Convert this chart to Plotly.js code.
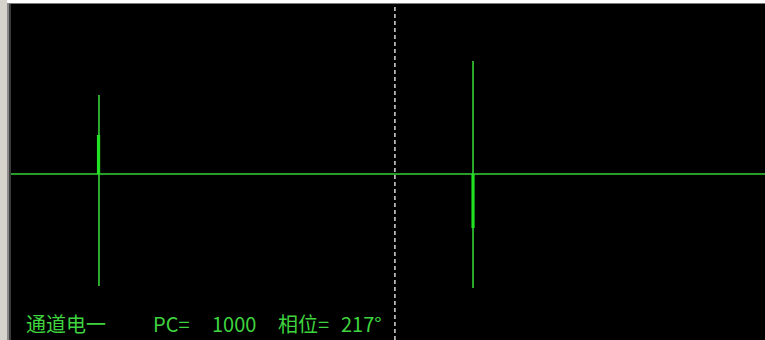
<!DOCTYPE html>
<html>
<head>
<meta charset="utf-8">
<script src="https://cdn.plot.ly/plotly-3.0.1.min.js"></script>
<style>
  html, body { margin: 0; padding: 0; background: #ffffff; }
  #scope { width: 765px; height: 340px; }
</style>
</head>
<body>
<div id="scope"></div>
<script>
// Partial-discharge scope trace over one power cycle (phase in degrees)
const phaseDeg   = [0, 42.0, 42.0, 42.0, 42.0, 220.6, 220.6, 220.6, 220.6, 360];
const amplitude  = [0, 0, 0.79, -1.12, 0, 0, 1.13, -1.14, 0, 0];

// Dense (bright) part of each pulse
const burstPhase = [41.8, 41.8, null, 220.6, 220.6];
const burstAmp   = [0, 0.39, null, 0, -0.54];

// Cursor position and status line
const cursorPhase  = 183.3;
const channelName  = '通道电一';
const pcLabel      = 'PC=';
const pcValue      = '1000';
const phaseLabel   = '相位=';
const phaseValue   = '217°';

const W = 765, H = 340, L = 11, T = 4;
const pw = W - L, ph = H - T;
const px = p => (p - L) / pw;          // page x pixel -> paper x
const py = q => 1 - (q - T) / ph;      // page y pixel -> paper y

const green = '#36d236';
const txtFont = { family: '"Noto Sans CJK SC", "Liberation Sans", sans-serif', size: 20, color: '#3fd43f' };

const traces = [
  { x: phaseDeg, y: amplitude, mode: 'lines', line: { color: green, width: 1.6 },
    hoverinfo: 'skip', showlegend: false },
  { x: burstPhase, y: burstAmp, mode: 'lines', line: { color: '#22e022', width: 3.2 },
    hoverinfo: 'skip', showlegend: false, connectgaps: false }
];

function label(text, left) {
  return { text: text, xref: 'paper', yref: 'paper', x: px(left), y: py(340),
           xanchor: 'left', yanchor: 'bottom', showarrow: false, font: txtFont };
}

const layout = {
  width: W, height: H,
  margin: { l: L, r: 0, t: T, b: 0, pad: 0 },
  paper_bgcolor: '#ffffff',
  plot_bgcolor: '#000000',
  xaxis: { range: [0, 360], visible: false, fixedrange: true },
  yaxis: { range: [-1.66, 1.70], visible: false, fixedrange: true },
  showlegend: false,
  shapes: [
    // window frame
    { type: 'rect', xref: 'paper', yref: 'paper', x0: px(0), x1: px(7), y0: py(340), y1: py(0),
      fillcolor: '#d6d3cc', line: { width: 0 }, layer: 'below' },
    { type: 'rect', xref: 'paper', yref: 'paper', x0: px(7), x1: px(9), y0: py(340), y1: py(3),
      fillcolor: '#8a8a8a', line: { width: 0 }, layer: 'below' },
    { type: 'rect', xref: 'paper', yref: 'paper', x0: px(9), x1: px(11), y0: py(340), y1: py(3),
      fillcolor: '#3a3a3a', line: { width: 0 }, layer: 'below' },
    { type: 'rect', xref: 'paper', yref: 'paper', x0: px(9), x1: px(765), y0: py(4), y1: py(3),
      fillcolor: '#7a7a7a', line: { width: 0 }, layer: 'below' },
    // phase cursor
    { type: 'line', xref: 'x', yref: 'paper', x0: cursorPhase, x1: cursorPhase, y0: 0, y1: 1,
      line: { color: '#d8d8d8', width: 1.5, dash: '4px,3px' }, layer: 'below' }
  ],
  annotations: [
    label(channelName, 24),
    label(pcLabel, 151),
    label(pcValue, 210),
    label(phaseLabel, 276),
    label(phaseValue, 339)
  ]
};

Plotly.newPlot('scope', traces, layout, { staticPlot: true, displayModeBar: false });
</script>
</body>
</html>
